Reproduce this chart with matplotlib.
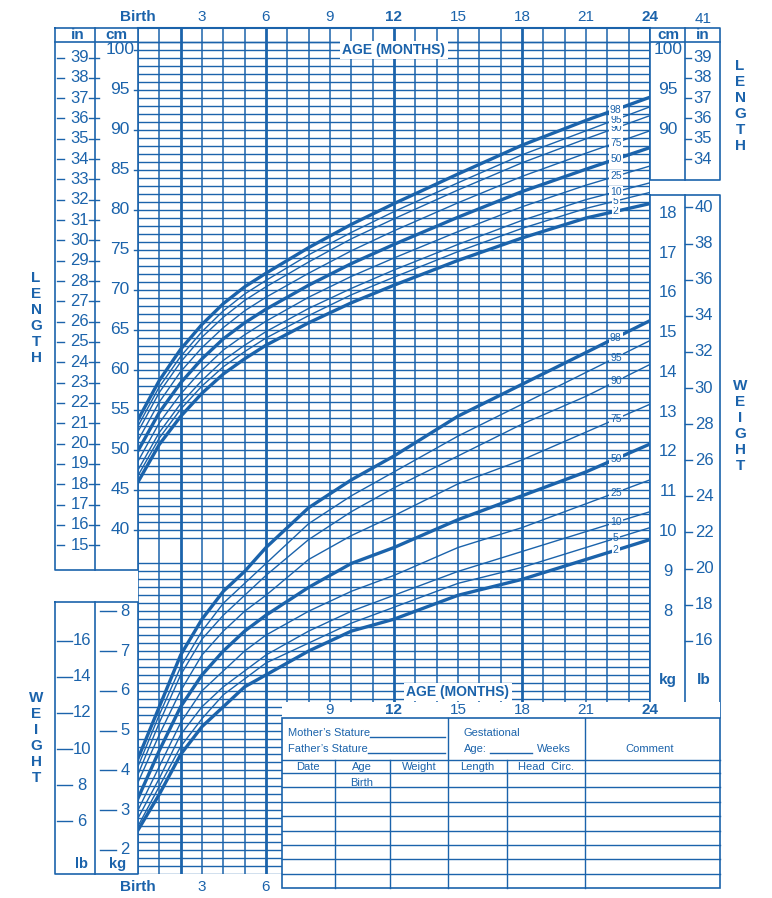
import numpy as np
import matplotlib
matplotlib.use("Agg")
import matplotlib.pyplot as plt

BLUE = "#1b63ab"
plt.rcParams['font.family'] = ['Liberation Sans', 'DejaVu Sans']

months = [0, 1, 2, 3, 4, 5, 6, 8, 10, 12, 15, 18, 21, 24]
pct_names = ["2", "5", "10", "25", "50", "75", "90", "95", "98"]

length_cm = {
    "2":  [46.0, 50.7, 54.2, 57.1, 59.5, 61.4, 63.1, 65.9, 68.4, 70.6, 73.7, 76.5, 79.0, 80.8],
    "5":  [46.8, 51.5, 55.1, 58.0, 60.4, 62.3, 64.0, 66.8, 69.4, 71.6, 74.8, 77.7, 80.2, 82.2],
    "10": [47.5, 52.2, 55.8, 58.7, 61.2, 63.1, 64.8, 67.7, 70.2, 72.5, 75.7, 78.7, 81.3, 83.4],
    "25": [48.6, 53.4, 57.0, 60.0, 62.5, 64.4, 66.1, 69.1, 71.7, 74.0, 77.3, 80.4, 83.1, 85.5],
    "50": [49.9, 54.7, 58.4, 61.4, 63.9, 65.9, 67.6, 70.6, 73.3, 75.7, 79.1, 82.3, 85.1, 87.8],
    "75": [51.2, 56.0, 59.8, 62.8, 65.3, 67.4, 69.1, 72.1, 74.9, 77.4, 80.9, 84.2, 87.1, 89.9],
    "90": [52.3, 57.2, 61.0, 64.1, 66.6, 68.7, 70.4, 73.5, 76.4, 78.9, 82.5, 85.9, 88.9, 91.8],
    "95": [53.0, 57.9, 61.7, 64.8, 67.4, 69.5, 71.2, 74.4, 77.2, 79.8, 83.4, 86.9, 89.9, 92.9],
    "98": [53.8, 58.7, 62.6, 65.7, 68.3, 70.4, 72.1, 75.3, 78.2, 80.8, 84.5, 88.1, 91.2, 94.1],
}

weight_kg = {
    "2":  [2.5, 3.4, 4.4, 5.1, 5.6, 6.1, 6.4, 7.0, 7.5, 7.8, 8.4, 8.8, 9.3, 9.8],
    "5":  [2.6, 3.6, 4.6, 5.3, 5.9, 6.3, 6.7, 7.2, 7.7, 8.1, 8.7, 9.1, 9.6, 10.1],
    "10": [2.8, 3.8, 4.9, 5.6, 6.1, 6.5, 6.9, 7.5, 8.0, 8.4, 9.0, 9.5, 10.0, 10.5],
    "25": [3.0, 4.1, 5.2, 6.0, 6.5, 7.0, 7.4, 8.0, 8.5, 8.9, 9.6, 10.1, 10.7, 11.3],
    "50": [3.3, 4.5, 5.6, 6.4, 7.0, 7.5, 7.9, 8.6, 9.2, 9.6, 10.3, 10.9, 11.5, 12.2],
    "75": [3.7, 4.9, 6.0, 6.9, 7.5, 8.0, 8.4, 9.3, 9.9, 10.4, 11.2, 11.8, 12.5, 13.2],
    "90": [3.9, 5.2, 6.4, 7.3, 7.9, 8.4, 8.9, 9.8, 10.5, 11.1, 11.9, 12.7, 13.4, 14.2],
    "95": [4.1, 5.4, 6.6, 7.5, 8.2, 8.7, 9.2, 10.2, 10.9, 11.5, 12.4, 13.2, 14.0, 14.8],
    "98": [4.3, 5.6, 6.9, 7.8, 8.5, 9.0, 9.6, 10.6, 11.3, 11.9, 12.9, 13.7, 14.5, 15.3],
}
bold_pcts = ["2", "50", "98"]

top_month_labels = ["Birth", "3", "6", "9", "12", "15", "18", "21", "24"]
cm_labels = list(range(40, 101, 5))
in_labels = list(range(15, 40))
kg_left = list(range(2, 9))
lb_left = list(range(6, 17, 2))
kg_right = list(range(8, 19))
lb_right = list(range(16, 41, 2))
cm_right = [90, 95, 100]
in_right = list(range(34, 40))

# pixel geometry of the chart grid
X0, X1 = 138, 650
YT, YB = 28, 874
def px(m):
    return X0 + (X1 - X0) * m / 24.0
def py_cm(c):
    return 50 + (100 - c) * 8.0
def py_kg(k):
    return 850 - (k - 2) * 39.8

fig = plt.figure(figsize=(7.72, 8.98), dpi=100)

pos = [X0 / 772, (898 - YB) / 898, (X1 - X0) / 772, (YB - YT) / 898]
axw = fig.add_axes(pos)
axl = fig.add_axes(pos)
for a in (axw, axl):
    a.set_xlim(0, 24)
    a.axis("off")
    a.patch.set_alpha(0)
axw.set_ylim(2 - (YB - 850) / 39.8, 2 + (850 - YT) / 39.8)
axl.set_ylim(100 - (YB - 50) / 8.0, 100 + (50 - YT) / 8.0)

# overlay for frames, scales and the record table (on top)
deco = fig.add_axes([0, 0, 1, 1])
deco.set_xlim(0, 772)
deco.set_ylim(898, 0)
deco.axis("off")
deco.patch.set_alpha(0)

# grid
for c in range(39, 102):
    axl.axhline(c, color=BLUE, lw=1.0, zorder=1)
for k in np.arange(1.4, 9.25, 0.2):
    axw.axhline(k, color=BLUE, lw=1.0, zorder=1)
for m in range(25):
    lw = 2.0 if m in (2, 6, 12, 18, 24) else 1.1
    axw.axvline(m, color=BLUE, lw=lw, zorder=1)

# curves
for p in pct_names:
    lw = 2.4 if p in bold_pcts else 1.0
    axl.plot(months, length_cm[p], color=BLUE, lw=lw, zorder=3)
    axw.plot(months, weight_kg[p], color=BLUE, lw=lw, zorder=3)
    for ax, data in ((axl, length_cm), (axw, weight_kg)):
        yv = np.interp(22.4, months, data[p])
        ax.text(22.4, yv, p, color=BLUE, fontsize=7.5, ha="center", va="center", zorder=5,
                bbox=dict(boxstyle="square,pad=0.12", fc="white", ec="none"))

# frame lines
def box(x0, y0, x1, y1, lw=1.2):
    deco.plot([x0, x1, x1, x0, x0], [y0, y0, y1, y1, y0], color=BLUE, lw=lw)

box(55, YT, 138, 570)
deco.plot([95, 95], [YT, 570], color=BLUE, lw=1.2)
deco.plot([55, 138], [42, 42], color=BLUE, lw=1.2)
box(55, 602, 138, YB)
deco.plot([95, 95], [602, YB], color=BLUE, lw=1.2)
box(650, YT, 720, 180)
deco.plot([685, 685], [YT, 180], color=BLUE, lw=1.2)
deco.plot([650, 720], [42, 42], color=BLUE, lw=1.2)
box(650, 195, 720, 718)
deco.plot([685, 685], [195, 718], color=BLUE, lw=1.2)
deco.plot([X0, X1], [YT, YT], color=BLUE, lw=1.5)
deco.plot([X0, X1], [42, 42], color=BLUE, lw=1.0)

tk = dict(color=BLUE, fontsize=11)
deco.text(78, 35, "in", ha="center", va="center", fontweight="bold", **tk)
deco.text(116, 35, "cm", ha="center", va="center", fontweight="bold", **tk)
deco.text(668, 35, "cm", ha="center", va="center", fontweight="bold", **tk)
deco.text(703, 35, "in", ha="center", va="center", fontweight="bold", **tk)
deco.text(703, 19, "41", ha="center", va="center", **tk)
for c in cm_labels:
    y = py_cm(c)
    deco.text(120, y, str(c), ha="center", va="center", color=BLUE, fontsize=12.5)
    deco.plot([134, 138], [y, y], color=BLUE, lw=1)
for i in in_labels:
    y = py_cm(i * 2.54)
    deco.text(89, y, str(i), ha="right", va="center", color=BLUE, fontsize=12)
    deco.plot([89, 99], [y, y], color=BLUE, lw=1)
    deco.plot([57, 64], [y, y], color=BLUE, lw=1)
for c in cm_right:
    y = py_cm(c)
    deco.text(668, y, str(c), ha="center", va="center", color=BLUE, fontsize=12.5)
for i in in_right:
    y = py_cm(i * 2.54)
    deco.text(703, y, str(i), ha="center", va="center", color=BLUE, fontsize=12)
    deco.plot([685, 691], [y, y], color=BLUE, lw=1)
for k in kg_left:
    y = py_kg(k)
    deco.text(125, y, str(k), ha="center", va="center", color=BLUE, fontsize=12)
    deco.plot([100, 116], [y, y], color=BLUE, lw=1)
for lb in lb_left:
    y = py_kg(lb * 0.45359)
    deco.text(82, y, str(lb), ha="center", va="center", color=BLUE, fontsize=12)
    deco.plot([57, 72], [y, y], color=BLUE, lw=1)
for k in kg_right:
    y = py_kg(k)
    deco.text(668, y, str(k), ha="center", va="center", color=BLUE, fontsize=12,
              bbox=dict(boxstyle="square,pad=0.1", fc="white", ec="none"))
for lb in lb_right:
    y = py_kg(lb * 0.45359)
    deco.text(704, y, str(lb), ha="center", va="center", color=BLUE, fontsize=12)
    deco.plot([685, 692], [y, y], color=BLUE, lw=1)
deco.text(82, 864, "lb", ha="center", va="center", fontweight="bold", color=BLUE, fontsize=10.5)
deco.text(118, 864, "kg", ha="center", va="center", fontweight="bold", color=BLUE, fontsize=10.5)
deco.text(668, 680, "kg", ha="center", va="center", fontweight="bold", **tk,
          bbox=dict(boxstyle="square,pad=0.1", fc="white", ec="none"))
deco.text(704, 680, "lb", ha="center", va="center", fontweight="bold", **tk)

# vertical words
for word, x, y0 in (("LENGTH", 36, 278), ("WEIGHT", 36, 698), ("LENGTH", 740, 66), ("WEIGHT", 740, 386)):
    for j, ch in enumerate(word):
        deco.text(x, y0 + j * 16, ch, ha="center", va="center", color=BLUE,
                  fontsize=11, fontweight="bold")

# month labels
for j, lab in enumerate(top_month_labels):
    bold = lab in ("Birth", "12", "24")
    deco.text(px(3 * j), 17, lab, ha="center", va="center", color=BLUE, fontsize=11,
              fontweight="bold" if bold else "normal")
for j, lab in enumerate(top_month_labels[:3]):
    deco.text(px(3 * j), 887, lab, ha="center", va="center", color=BLUE, fontsize=11,
              fontweight="bold" if lab == "Birth" else "normal")
deco.add_patch(plt.Rectangle((282, 702), 438, 16, fc="white", ec="none", zorder=4))
for j, lab in enumerate(top_month_labels[3:]):
    bold = lab in ("12", "24")
    deco.text(px(9 + 3 * j), 710, lab, ha="center", va="center", color=BLUE, fontsize=11,
              fontweight="bold" if bold else "normal", zorder=5)
deco.text(px(12), 50, "AGE (MONTHS)", ha="center", va="center", color=BLUE, fontsize=10,
          fontweight="bold", zorder=6, bbox=dict(boxstyle="square,pad=0.15", fc="white", ec="none"))
deco.text(px(15), 692, "AGE (MONTHS)", ha="center", va="center", color=BLUE, fontsize=10,
          fontweight="bold", zorder=6, bbox=dict(boxstyle="square,pad=0.15", fc="white", ec="none"))

# record table
deco.add_patch(plt.Rectangle((282, 718), 438, 170, fc="white", ec=BLUE, lw=1.2, zorder=6))
T = dict(color=BLUE, lw=1.0, zorder=7)
deco.plot([448, 448], [718, 888], **T)
deco.plot([585, 585], [718, 888], **T)
for x in (335, 390, 507):
    deco.plot([x, x], [760, 888], **T)
deco.plot([282, 720], [760, 760], **T)
for y in np.arange(773, 888, 14.4):
    deco.plot([282, 720], [y, y], **T)
deco.plot([370, 445], [737, 737], **T)
deco.plot([368, 445], [753, 753], **T)
deco.plot([490, 532], [753, 753], **T)
tt = dict(color=BLUE, fontsize=8, va="center", zorder=8)
deco.text(288, 733, "Mother\u2019s Stature", **tt)
deco.text(288, 749, "Father\u2019s Stature", **tt)
deco.text(464, 733, "Gestational", **tt)
deco.text(464, 749, "Age:", **tt)
deco.text(537, 749, "Weeks", **tt)
deco.text(650, 749, "Comment", ha="center", **tt)
for x, lab in ((308, "Date"), (362, "Age"), (419, "Weight"), (477, "Length"), (546, "Head  Circ.")):
    deco.text(x, 767, lab, ha="center", **tt)
deco.text(362, 783, "Birth", ha="center", **tt)

fig.savefig("out.png", dpi=100)
